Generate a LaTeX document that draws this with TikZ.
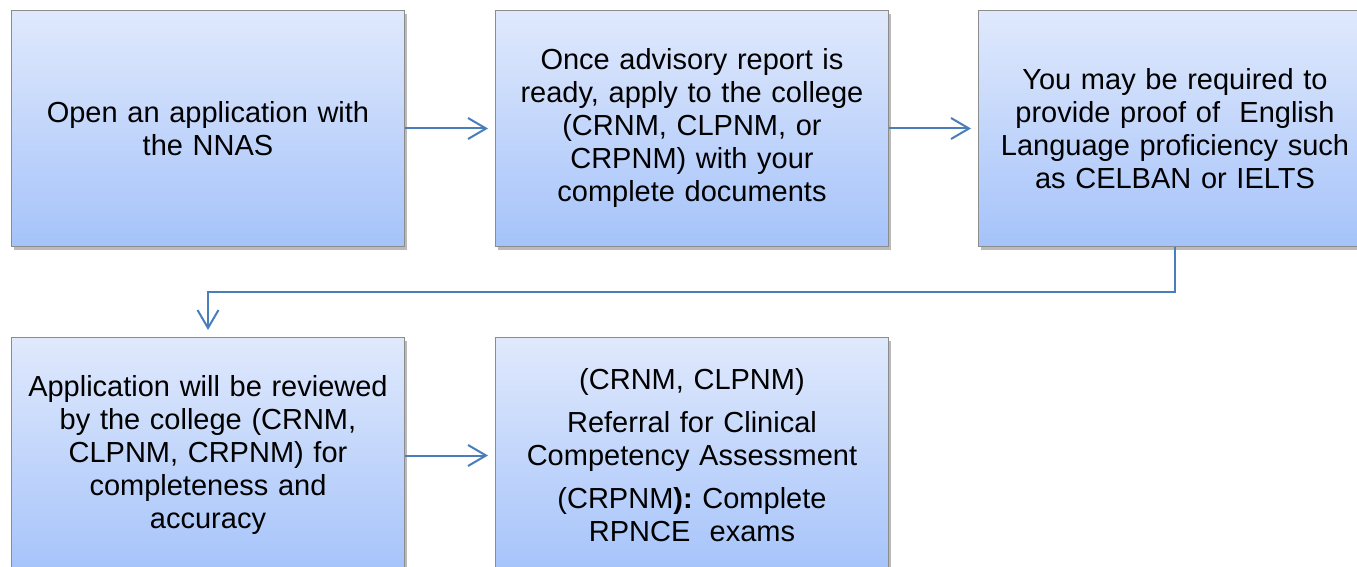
\documentclass[tikz,border=0pt]{standalone}
\usepackage{fontspec}
\setmainfont{Liberation Sans}
\usetikzlibrary{positioning, arrows.meta, shadows}
\definecolor{boxtop}{RGB}{224,233,252}
\definecolor{boxbot}{RGB}{165,195,250}
\definecolor{boxedge}{RGB}{140,140,140}
\definecolor{linkblue}{RGB}{74,126,187}
\tikzstyle{sblock} = [rectangle, draw=boxedge, line width=0.5pt, top color=boxtop, bottom color=boxbot, text width=192pt, align=center, minimum width=196.5pt, minimum height=118pt, inner sep=0pt, font=\fontsize{14.5}{16.5}\selectfont, drop shadow={shadow xshift=1pt, shadow yshift=-1.8pt, opacity=0.45, fill=black!60}]
\tikzstyle{line} = [draw, line width=1pt, color=linkblue, -{Straight Barb[length=9pt, width=10.5pt, line width=1pt]}, shorten >=3.5pt]

\begin{document}
\begin{tikzpicture}[node distance = 45pt and 45pt]
    \useasboundingbox (0,0) rectangle (678.5pt,-283.5pt);
    % Place nodes
    \node [sblock, anchor=north west] (open) at (5.5pt,-5pt) {Open an application with\\the NNAS};
    \node [sblock, right=of open] (apply) {Once advisory report is\\ready, apply to the college\\(CRNM, CLPNM, or\\CRPNM) with your\\complete documents};
    \node [sblock, right=44.5pt of apply] (lang) {You may be required to\\provide proof of\ \ English\\Language proficiency such\\as CELBAN or IELTS};
    \node [sblock, below=of open] (review) {Application will be reviewed\\by the college (CRNM,\\CLPNM, CRPNM) for\\completeness and\\accuracy};
    \node [sblock, right=of review] (referral) {(CRNM, CLPNM)\\[5pt]Referral for Clinical\\Competency Assessment\\[5pt](CRPNM\textbf{):} Complete\\RPNCE\ \ exams};
    % Draw edges
    \path [line] (open) -- (apply);
    \path [line] (apply) -- (lang);
    \path [line] (lang.south) -- ++(0,-22.5pt) -| (review.north);
    \path [line] (review) -- (referral);
\end{tikzpicture}
\end{document}
